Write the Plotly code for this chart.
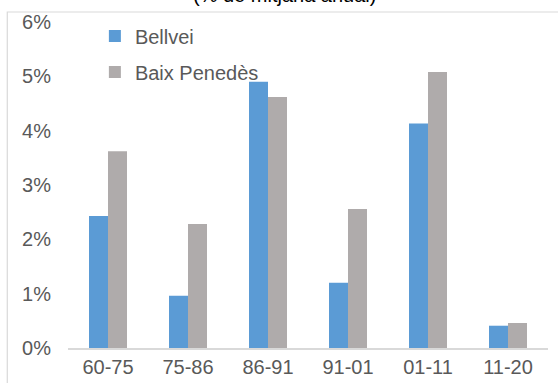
import plotly.graph_objects as go

periods = ["60-75", "75-86", "86-91", "91-01", "01-11", "11-20"]
bellvei = [2.43, 0.96, 4.90, 1.20, 4.13, 0.41]
baix_penedes = [3.62, 2.28, 4.62, 2.56, 5.08, 0.46]
y_ticks = [0, 1, 2, 3, 4, 5, 6]
y_tick_labels = ["0%", "1%", "2%", "3%", "4%", "5%", "6%"]

FONT = "Liberation Sans, Arial, sans-serif"

fig = go.Figure()
fig.add_trace(go.Bar(x=periods, y=bellvei, name="Bellvei", legendgroup="a",
                     marker=dict(color="#5B9BD5", line=dict(width=0))))
fig.add_trace(go.Bar(x=periods, y=baix_penedes, name="Baix Penedès", legendgroup="b",
                     marker=dict(color="#AFABAB", line=dict(width=0))))

fig.update_layout(
    width=558, height=383,
    margin=dict(l=68, r=10, t=21.5, b=34.7, autoexpand=False),
    paper_bgcolor="white", plot_bgcolor="white",
    font=dict(family=FONT, size=20, color="#595959"),
    barmode="group", bargap=0.525, bargroupgap=0,
    showlegend=True,
    legend=dict(x=0.056, y=1.0166, xanchor="left", yanchor="top",
                bgcolor="rgba(0,0,0,0)", tracegroupgap=7,
                font=dict(size=20, color="#595959")),
    xaxis=dict(type="category", showgrid=False, showline=True, linecolor="#D9D9D9",
               linewidth=1.5, ticks="", ticklabelstandoff=0, zeroline=False,
               automargin=False),
    yaxis=dict(range=[0, 6], tickvals=y_ticks, ticktext=y_tick_labels,
               showgrid=False, zeroline=False, showline=False, ticks="",
               ticklabelstandoff=16, automargin=False),
    shapes=[dict(type="rect", xref="paper", yref="paper",
                 x0=-0.1265, x1=1.03, y0=-0.13, y1=1.0306,
                 line=dict(color="#D9D9D9", width=1.2), fillcolor="rgba(0,0,0,0)")],
    annotations=[dict(text="(% de mitjana anual)", xref="paper", yref="paper",
                      x=0.452, y=1.083, xanchor="center", yanchor="middle",
                      showarrow=False, font=dict(size=20, color="#000000"))],
)

# page body has an 8px default margin, drop it so the figure sits at the window corner
fig.write_html("out.html", config={"displayModeBar": False},
               post_script="document.body.style.margin='0';")
